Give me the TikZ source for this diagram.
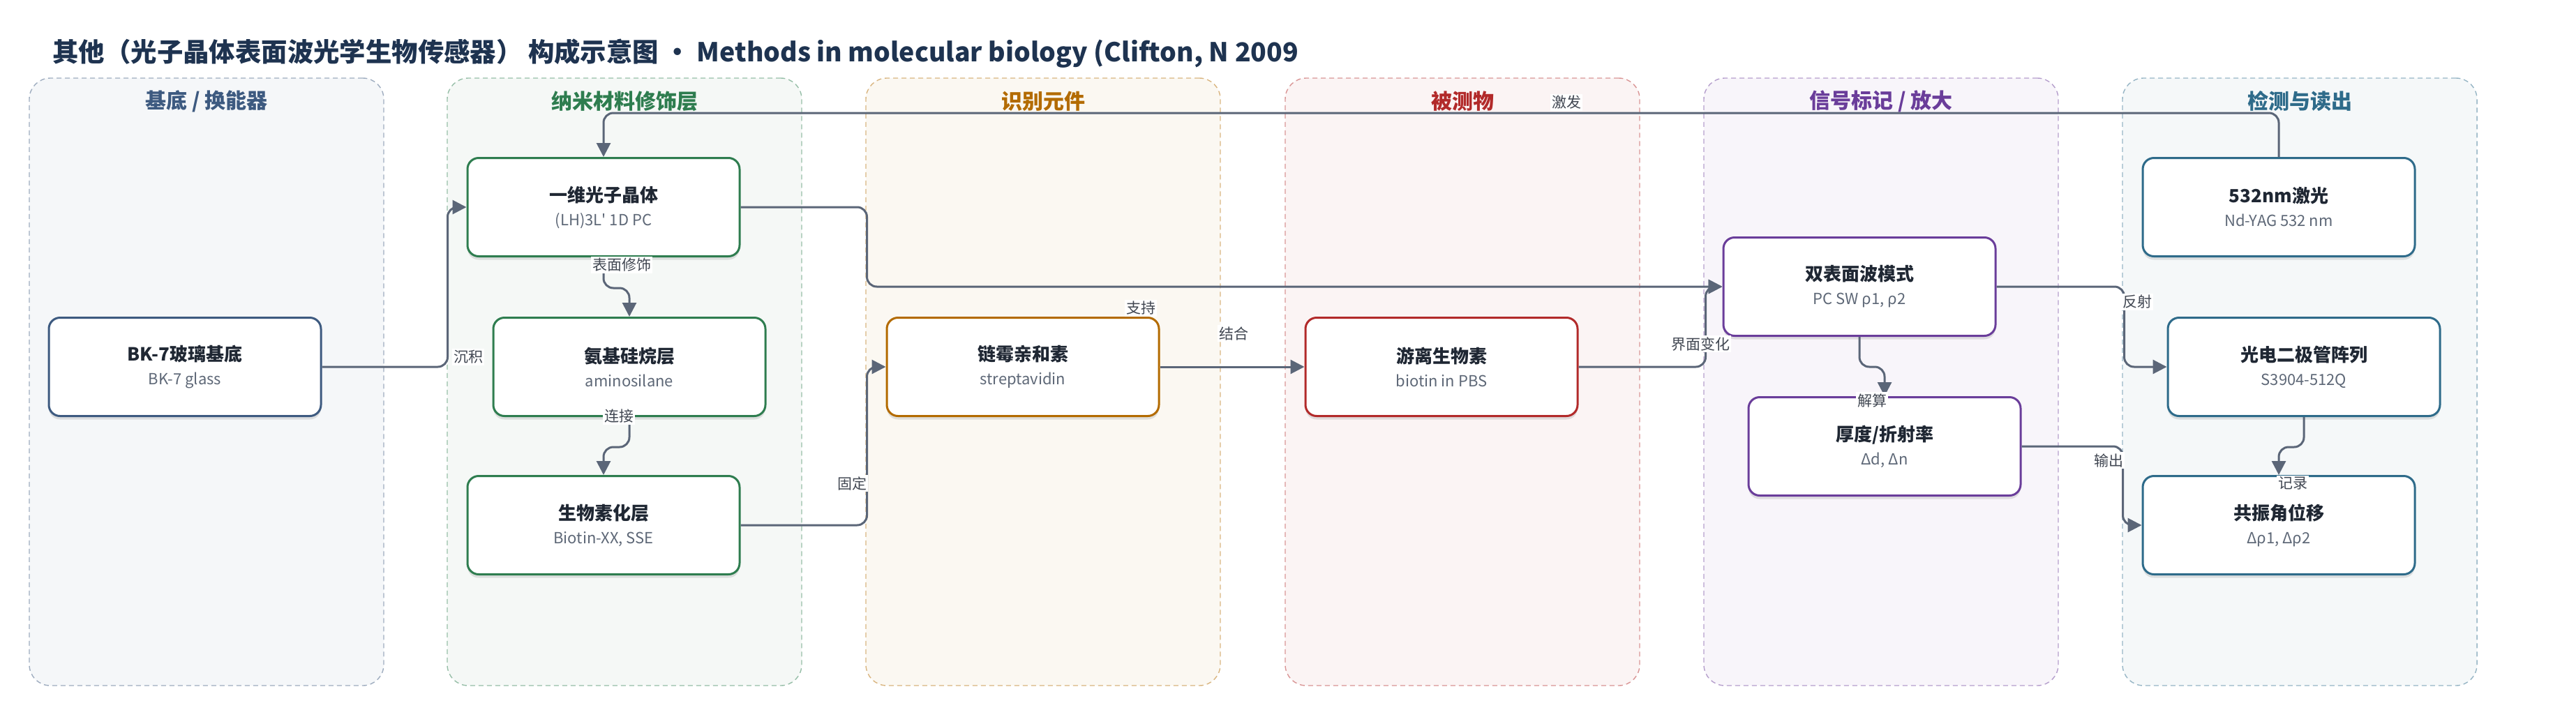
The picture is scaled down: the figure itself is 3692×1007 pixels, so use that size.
\documentclass[tikz,border=0pt]{standalone}
\usepackage{fontspec}
\setmainfont{Noto Sans CJK SC}
\newfontfamily\plainq{Noto Sans CJK SC}
\usetikzlibrary{arrows.meta,shadows}

\definecolor{ink}{HTML}{1F2733}
\definecolor{subink}{HTML}{5E6877}
\definecolor{wire}{HTML}{5B6678}
\definecolor{navy}{HTML}{1E3350}
\definecolor{baseC}{HTML}{3D5A80}
\definecolor{nanoC}{HTML}{2E7D4F}
\definecolor{recC}{HTML}{B36B00}
\definecolor{anaC}{HTML}{B22A2A}
\definecolor{sigC}{HTML}{6A3D9A}
\definecolor{detC}{HTML}{2E6B8A}

\newcommand{\duo}[2]{{\fontsize{13pt}{15pt}\selectfont\bfseries #1}\\[5pt]{\fontsize{11pt}{13pt}\selectfont\color{subink}#2}}

\tikzset{
  lane/.style={draw=#1!50, fill=#1!5, dash pattern=on 3.5pt off 2.5pt, line width=0.7pt,
    rounded corners=15pt, minimum width=254pt, minimum height=435.5pt},
  lanehead/.style={text=#1, font=\fontsize{15pt}{17pt}\selectfont\bfseries},
  box/.style={draw=#1, fill=white, line width=1.5pt, rounded corners=8pt, align=center,
    minimum width=195pt, minimum height=70.5pt, text=ink,
    drop shadow={shadow xshift=0pt, shadow yshift=-2.5pt, opacity=0.15, fill=black!70}},
  link/.style={draw=wire, line width=1.5pt, rounded corners=7pt, -{Triangle[length=10pt,width=10pt]}},
  tag/.style={fill=white, inner sep=1pt, text=ink!85, font=\fontsize{10.5pt}{12pt}\selectfont}
}

\begin{document}
\begin{tikzpicture}[x=0.5pt, y=-0.5pt]
  \useasboundingbox (0,0) rectangle (3692,1007);

  \node[anchor=west, inner sep=0pt, text=navy, font=\fontsize{18.7pt}{22pt}\selectfont\bfseries] (title) at (75,77)
    {其他（光子晶体表面波光学生物传感器） 构成示意图 • Methods in molecular biology (Clifton, N 2009};

  % lanes
  \node[lane=baseC] (L1) at (296,547.5) {};
  \node[lane=nanoC] (L2) at (895,547.5) {};
  \node[lane=recC] (L3) at (1495,547.5) {};
  \node[lane=anaC] (L4) at (2096,547.5) {};
  \node[lane=sigC] (L5) at (2696,547.5) {};
  \node[lane=detC] (L6) at (3296,547.5) {};

  \node[lanehead=baseC] (h1) at (296,145) {基底 / 换能器};
  \node[lanehead=nanoC] (h2) at (895,145) {纳米材料修饰层};
  \node[lanehead=recC] (h3) at (1495,145) {识别元件};
  \node[lanehead=anaC] (h4) at (2096,145) {被测物};
  \node[lanehead=sigC] (h5) at (2696,145) {信号标记 / 放大};
  \node[lanehead=detC] (h6) at (3296,145) {检测与读出};

  % boxes
  \node[box=baseC] (bk7) at (265,526) {\duo{BK-7玻璃基底}{BK-7 glass}};
  \node[box=nanoC] (pc) at (865,297) {\duo{一维光子晶体}{(LH)3L{\plainq '} 1D PC}};
  \node[box=nanoC] (amino) at (902,526) {\duo{氨基硅烷层}{aminosilane}};
  \node[box=nanoC] (bio) at (865,753) {\duo{生物素化层}{Biotin-XX, SSE}};
  \node[box=recC] (sa) at (1466,526) {\duo{链霉亲和素}{streptavidin}};
  \node[box=anaC] (fb) at (2066,526) {\duo{游离生物素}{biotin in PBS}};
  \node[box=sigC] (sw) at (2665,411) {\duo{双表面波模式}{PC SW ρ1, ρ2}};
  \node[box=sigC] (thk) at (2701,640) {\duo{厚度/折射率}{Δd, Δn}};
  \node[box=detC] (laser) at (3266,297) {\duo{532nm激光}{Nd-YAG 532 nm}};
  \node[box=detC] (pd) at (3302,526) {\duo{光电二极管阵列}{S3904-512Q}};
  \node[box=detC] (shift) at (3266,753) {\duo{共振角位移}{Δρ1, Δρ2}};

  % connectors
  \draw[link] (bk7.east) -- ++(180,0) |- (pc.west);
  \draw[link] (pc.south) -- ++(0,44) -| (amino.north);
  \draw[link] (amino.south) -- ++(0,43) -| (bio.north);
  \draw[link] (bio.east) -- ++(181,0) |- (sa.west);
  \draw[link] (pc.east) -- ++(181,0) |- (sw.west);
  \draw[link] (sa) -- (fb);
  \draw[link] (fb.east) -- ++(182,0) |- (sw.west);
  \draw[link] (laser.north) -- ++(0,-63) -| (pc.north);
  \draw[link] (sw.east) -- ++(183,0) |- (pd.west);
  \draw[link] (sw.south) -- ++(0,43) -| (thk.north);
  \draw[link] (thk.east) -- ++(145,0) |- (shift.west);
  \draw[link] (pd.south) -- ++(0,43) -| (shift.north);

  \node[tag] (t1) at (671,512) {沉积};
  \node[tag] (t2) at (891,380) {表面修饰};
  \node[tag] (t3) at (887,597) {连接};
  \node[tag] (t4) at (1221,693) {固定};
  \node[tag] (t5) at (1635,442) {支持};
  \node[tag] (t6) at (1768,478) {结合};
  \node[tag] (t7) at (2437,493) {界面变化};
  \node[tag] (t8) at (2245,147) {激发};
  \node[tag] (t9) at (3063,433) {反射};
  \node[tag] (t10) at (2683,574) {解算};
  \node[tag] (t11) at (3022,660) {输出};
  \node[tag] (t12) at (3286,693) {记录};
\end{tikzpicture}
\end{document}
